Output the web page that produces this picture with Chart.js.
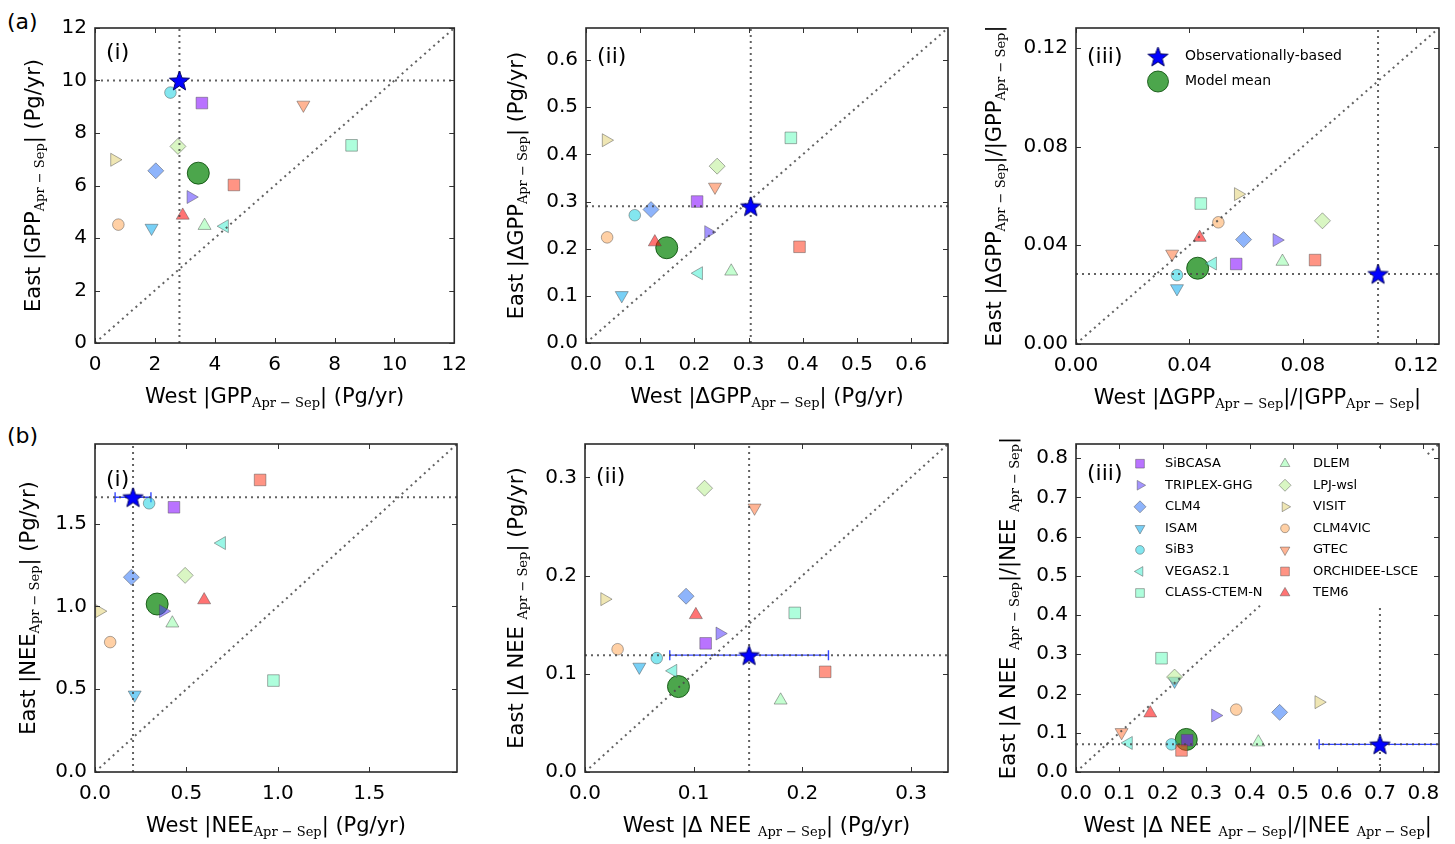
<!DOCTYPE html>
<html>
<head>
<meta charset="utf-8">
<script src="https://cdn.jsdelivr.net/npm/chart.js@4.4.1/dist/chart.umd.min.js"></script>
<style>
  html, body { margin: 0; padding: 0; background: #fff; width: 1455px; height: 844px; overflow: hidden; }
  .panel { position: absolute; }
  .tag { position: absolute; font: 22px "DejaVu Sans", sans-serif; color: #000; line-height: normal; }
</style>
</head>
<body>
<div class="tag" style="left:7px; top:9px;">(a)</div>
<div class="tag" style="left:7px; top:423px;">(b)</div>
<script>
// Models (same order in every panel)
const models = ['SiBCASA', 'TRIPLEX-GHG', 'CLM4', 'ISAM', 'SiB3', 'VEGAS2.1', 'CLASS-CTEM-N',
  'DLEM', 'LPJ-wsl', 'VISIT', 'CLM4VIC', 'GTEC', 'ORCHIDEE-LSCE', 'TEM6'];

// (a)(i) |GPP Apr-Sep|
const gppWest = [3.57, 3.20, 2.03, 1.89, 2.52, 4.33, 8.57, 3.66, 2.77, 0.65, 0.78, 6.96, 4.64, 2.93];
const gppEast = [9.14, 5.56, 6.56, 4.38, 9.54, 4.45, 7.53, 4.47, 7.49, 6.98, 4.51, 9.07, 6.02, 4.86];
// (a)(ii) |dGPP|
const dGppWest = [0.205, 0.226, 0.120, 0.066, 0.090, 0.208, 0.378, 0.268, 0.242, 0.037, 0.039, 0.238, 0.394, 0.127];
const dGppEast = [0.300, 0.235, 0.283, 0.101, 0.271, 0.148, 0.435, 0.152, 0.375, 0.430, 0.224, 0.331, 0.204, 0.214];
// (a)(iii) |dGPP|/|GPP|
const relGppWest = [0.0565, 0.0708, 0.0591, 0.0356, 0.0356, 0.0482, 0.0440, 0.0728, 0.0869, 0.0572, 0.0502, 0.0339, 0.0843, 0.0436];
const relGppEast = [0.0324, 0.0421, 0.0423, 0.0225, 0.0279, 0.0326, 0.0569, 0.0334, 0.0499, 0.0607, 0.0493, 0.0365, 0.0340, 0.0431];
// (b)(i) |NEE| (GTEC not shown)
const neeWest = [0.432, 0.373, 0.199, 0.217, 0.296, 0.693, 0.976, 0.423, 0.493, 0.024, 0.083, null, 0.903, 0.597];
const neeEast = [1.598, 0.971, 1.176, 0.466, 1.622, 1.382, 0.552, 0.898, 1.187, 0.971, 0.784, null, 1.763, 1.038];
// (b)(ii) |dNEE|
const dNeeWest = [0.111, 0.124, 0.093, 0.050, 0.066, 0.081, 0.193, 0.180, 0.110, 0.018, 0.030, 0.156, 0.221, 0.102];
const dNeeEast = [0.131, 0.141, 0.179, 0.107, 0.116, 0.103, 0.162, 0.073, 0.289, 0.176, 0.125, 0.269, 0.102, 0.160];
// (b)(iii) |dNEE|/|NEE|
const relNeeWest = [0.256, 0.321, 0.469, 0.227, 0.220, 0.121, 0.197, 0.420, 0.227, 0.559, 0.369, 0.105, 0.243, 0.171];
const relNeeEast = [0.081, 0.144, 0.152, 0.232, 0.0705, 0.074, 0.290, 0.076, 0.242, 0.178, 0.159, 0.101, 0.055, 0.150];

// observations and model mean, one value per panel
const obsWest = [2.82, 0.304, 0.1065, 0.208, 0.151, 0.70];
const obsEast = [10.0, 0.290, 0.0284, 1.659, 0.119, 0.0705];
const obsWestErr = [0, 0, 0, 0.098, 0.073, 0.14];
const meanWest = [3.45, 0.149, 0.0429, 0.340, 0.086, 0.254];
const meanEast = [6.47, 0.202, 0.0307, 1.014, 0.087, 0.083];

// axes
const axisMax = [12, 0.668, 0.128, 1.98, 0.334, 0.836];
const tickStep = [2, 0.1, 0.04, 0.5, 0.1, 0.1];
const tickDecimals = [0, 1, 2, 1, 1, 1];
const panelLabels = ['(i)', '(ii)', '(iii)', '(i)', '(ii)', '(iii)'];

const S = 'Apr \u2212 Sep';
const xTitles = [
  ['West |GPP', S, '| (Pg/yr)'],
  ['West |\u0394GPP', S, '| (Pg/yr)'],
  ['West |\u0394GPP', S, '|/|GPP', S, '|'],
  ['West |NEE', S, '| (Pg/yr)'],
  ['West |\u0394 NEE ', S, '| (Pg/yr)'],
  ['West |\u0394 NEE ', S, '|/|NEE ', S, '|'],
];
const yTitles = [
  ['East |GPP', S, '| (Pg/yr)'],
  ['East |\u0394GPP', S, '| (Pg/yr)'],
  ['East |\u0394GPP', S, '|/|GPP', S, '|'],
  ['East |NEE', S, '| (Pg/yr)'],
  ['East |\u0394 NEE ', S, '| (Pg/yr)'],
  ['East |\u0394 NEE ', S, '|/|NEE ', S, '|'],
];

const westVals = [gppWest, dGppWest, relGppWest, neeWest, dNeeWest, relNeeWest];
const eastVals = [gppEast, dGppEast, relGppEast, neeEast, dNeeEast, relNeeEast];

// styles
const modelColors = [
  'rgba(128,0,255,0.55)', 'rgba(88,61,253,0.55)', 'rgba(49,119,248,0.55)', 'rgba(10,169,238,0.55)',
  'rgba(29,210,226,0.55)', 'rgba(69,238,210,0.55)', 'rgba(108,253,191,0.55)', 'rgba(147,253,169,0.55)',
  'rgba(186,238,145,0.55)', 'rgba(226,210,119,0.55)', 'rgba(255,169,91,0.55)', 'rgba(255,119,61,0.55)',
  'rgba(255,61,31,0.55)', 'rgba(255,0,0,0.55)'];
const modelShapes = ['rect', 'triangle', 'rectRot', 'triangle', 'circle', 'triangle', 'rect',
  'triangle', 'rectRot', 'triangle', 'circle', 'triangle', 'rect', 'triangle'];
const modelRotation = [0, 90, 0, 180, 0, 270, 0, 0, 0, 90, 0, 180, 0, 0];
const shapeRadius = { rect: 8.2, rectRot: 8, circle: 5.8, triangle: 7.5 };
const edgeColor = 'rgba(70,70,70,0.45)';
const meanColor = 'rgba(0,128,0,0.7)';
const dotColor = 'rgba(70,70,70,0.85)';

const panels = [
  { l: 95, t: 28, r: 457, b: 343, yGap: 55, labelY: 31 },
  { l: 586, t: 28, r: 948, b: 343, yGap: 63, labelY: 35 },
  { l: 1076, t: 28, r: 1439, b: 344, yGap: 75, labelY: 35 },
  { l: 95, t: 444, r: 457, b: 772, yGap: 60, labelY: 42 },
  { l: 585, t: 444, r: 948, b: 772, yGap: 62, labelY: 39 },
  { l: 1076, t: 444, r: 1439, b: 772, yGap: 61, labelY: 36 },
];

const FONT = '"DejaVu Sans", sans-serif';
const MAIN_FONT = '21px ' + FONT;
const SUB_FONT = '13px "DejaVu Serif", serif';
Chart.defaults.font.family = FONT;
Chart.defaults.color = '#000';

function makeStar(size) {
  const c = document.createElement('canvas');
  c.width = c.height = size;
  const g = c.getContext('2d');
  const R = size / 2 - 1, r = R * 0.42, cx = size / 2, cy = size / 2 + 1;
  g.beginPath();
  for (let i = 0; i < 10; i++) {
    const a = -Math.PI / 2 + i * Math.PI / 5;
    const rr = i % 2 ? r : R;
    g.lineTo(cx + rr * Math.cos(a), cy + rr * Math.sin(a));
  }
  g.closePath();
  g.fillStyle = '#0000ff';
  g.fill();
  g.lineWidth = 1;
  g.strokeStyle = '#000060';
  g.stroke();
  return c;
}
const starImg = makeStar(23);

// text with subscripts: even items normal, odd items subscript
function drawRich(ctx, segs, x, y, rotate) {
  ctx.save();
  ctx.translate(x, y);
  if (rotate) ctx.rotate(-Math.PI / 2);
  ctx.fillStyle = '#000';
  ctx.textBaseline = 'alphabetic';
  ctx.textAlign = 'left';
  let total = 0;
  const widths = segs.map((s, i) => {
    ctx.font = i % 2 ? SUB_FONT : MAIN_FONT;
    const w = ctx.measureText(s).width;
    total += w;
    return w;
  });
  let cx = -total / 2;
  segs.forEach((s, i) => {
    ctx.font = i % 2 ? SUB_FONT : MAIN_FONT;
    ctx.fillText(s, cx, i % 2 ? 4 : 0);
    cx += widths[i];
  });
  ctx.restore();
}

function legendPoint(ctx, style, rotation, radius, color, edge, x, y) {
  ctx.save();
  ctx.fillStyle = color;
  ctx.strokeStyle = edge;
  ctx.lineWidth = 1;
  Chart.helpers.drawPoint(ctx, { pointStyle: style, rotation: rotation, radius: radius, borderWidth: 1 }, x, y);
  ctx.restore();
}

function buildPanel(k) {
  const p = panels[k];
  const yW = 100, tp = 28, xH = 70, rp = k % 3 === 2 ? 14 : 20;
  const w = yW + (p.r - p.l) + rp;
  const h = tp + (p.b - p.t) + xH;
  const div = document.createElement('div');
  div.className = 'panel';
  div.style.left = (p.l - yW) + 'px';
  div.style.top = (p.t - tp) + 'px';
  div.style.width = w + 'px';
  div.style.height = h + 'px';
  const cv = document.createElement('canvas');
  cv.width = w;
  cv.height = h;
  cv.style.width = w + 'px';
  cv.style.height = h + 'px';
  div.appendChild(cv);
  document.body.appendChild(div);

  const lim = axisMax[k];
  const datasets = [];

  datasets.push({
    label: 'Model mean',
    data: [{ x: meanWest[k], y: meanEast[k] }],
    pointStyle: 'circle', pointRadius: 11,
    pointBackgroundColor: meanColor, pointBorderColor: 'rgba(0,70,0,0.8)', pointBorderWidth: 1,
    order: 200,
  });

  models.forEach((m, i) => {
    const x = westVals[k][i], y = eastVals[k][i];
    if (x == null || y == null) return;
    datasets.push({
      label: m,
      data: [{ x: x, y: y }],
      pointStyle: modelShapes[i], pointRotation: modelRotation[i],
      pointRadius: shapeRadius[modelShapes[i]],
      pointBackgroundColor: modelColors[i], pointBorderColor: edgeColor, pointBorderWidth: 1,
      order: 100 - i,
    });
  });

  const refLine = (data) => ({
    data: data, showLine: true, pointRadius: 0, fill: false,
    borderColor: dotColor, borderWidth: 2, borderDash: [2, 4], order: 50,
  });
  datasets.push(refLine([{ x: 0, y: 0 }, { x: lim, y: lim }]));
  datasets.push(refLine([{ x: 0, y: obsEast[k] }, { x: lim, y: obsEast[k] }]));
  datasets.push(refLine([{ x: obsWest[k], y: 0 }, { x: obsWest[k], y: lim }]));

  datasets.push({
    label: 'Observationally-based',
    data: [{ x: obsWest[k], y: obsEast[k] }],
    pointStyle: starImg, pointRadius: 10, order: 0,
  });

  const tickCfg = {
    stepSize: tickStep[k], includeBounds: false, autoSkip: false, maxRotation: 0,
    color: '#000', font: { size: 20 },
    callback: (v) => Number(v).toFixed(tickDecimals[k]),
  };

  const panelPlugin = {
    id: 'panel' + k,
    beforeDatasetsDraw(chart) {
      const err = obsWestErr[k];
      if (!err) return;
      const { ctx, chartArea: a, scales } = chart;
      const y = scales.y.getPixelForValue(obsEast[k]);
      const x1 = scales.x.getPixelForValue(obsWest[k] - err);
      const x2 = scales.x.getPixelForValue(obsWest[k] + err);
      ctx.save();
      ctx.beginPath();
      ctx.rect(a.left, a.top, a.right - a.left, a.bottom - a.top);
      ctx.clip();
      ctx.strokeStyle = 'rgba(30,50,255,0.9)';
      ctx.lineWidth = 1.4;
      ctx.beginPath();
      ctx.moveTo(x1, y); ctx.lineTo(x2, y);
      ctx.moveTo(x1, y - 5); ctx.lineTo(x1, y + 5);
      ctx.moveTo(x2, y - 5); ctx.lineTo(x2, y + 5);
      ctx.stroke();
      ctx.restore();
    },
    afterDatasetsDraw(chart) {
      const { ctx, chartArea: a, scales } = chart;
      ctx.save();
      // legends
      if (k === 2) {
        legendPoint(ctx, starImg, 0, 10, '#00f', '#000060', a.left + 82, a.top + 28.5);
        legendPoint(ctx, 'circle', 0, 10.5, meanColor, 'rgba(0,70,0,0.8)', a.left + 82, a.top + 53.5);
        ctx.fillStyle = '#000';
        ctx.font = '14px ' + FONT;
        ctx.textBaseline = 'middle';
        ctx.fillText('Observationally-based', a.left + 109, a.top + 28.5);
        ctx.fillText('Model mean', a.left + 109, a.top + 53.5);
      }
      if (k === 5) {
        ctx.fillStyle = '#fff';
        ctx.fillRect(a.left + 51, a.top + 4, 299, 157);
        ctx.font = '13px ' + FONT;
        ctx.textBaseline = 'middle';
        models.forEach((m, i) => {
          const col = i < 7 ? 0 : 1;
          const row = i % 7;
          const mx = a.left + (col ? 209 : 64);
          const tx = a.left + (col ? 237 : 89);
          const my = a.top + 19.7 + row * 21.55;
          legendPoint(ctx, modelShapes[i], modelRotation[i], shapeRadius[modelShapes[i]] * 0.75,
            modelColors[i], edgeColor, mx, my);
          ctx.fillStyle = '#000';
          ctx.fillText(m, tx, my);
        });
      }
      // inward ticks on all four sides
      ctx.strokeStyle = '#333';
      ctx.lineWidth = 1;
      ctx.beginPath();
      scales.x.ticks.forEach((t) => {
        const x = Math.round(scales.x.getPixelForValue(t.value)) + 0.5;
        ctx.moveTo(x, a.bottom); ctx.lineTo(x, a.bottom - 5);
        ctx.moveTo(x, a.top); ctx.lineTo(x, a.top + 5);
      });
      scales.y.ticks.forEach((t) => {
        const y = Math.round(scales.y.getPixelForValue(t.value)) + 0.5;
        ctx.moveTo(a.left, y); ctx.lineTo(a.left + 5, y);
        ctx.moveTo(a.right, y); ctx.lineTo(a.right - 5, y);
      });
      ctx.stroke();
      // frame
      ctx.strokeStyle = '#2a2a2a';
      ctx.lineWidth = 1.6;
      ctx.strokeRect(a.left, a.top, a.right - a.left, a.bottom - a.top);
      // panel label
      ctx.fillStyle = '#000';
      ctx.font = '22px ' + FONT;
      ctx.textBaseline = 'alphabetic';
      ctx.fillText(panelLabels[k], a.left + 11, a.top + p.labelY);
      ctx.restore();
    },
    afterDraw(chart) {
      const { ctx, chartArea: a } = chart;
      drawRich(ctx, xTitles[k], (a.left + a.right) / 2, a.bottom + 60, false);
      drawRich(ctx, yTitles[k], a.left - p.yGap, (a.top + a.bottom) / 2, true);
    },
  };

  new Chart(cv, {
    type: 'scatter',
    data: { datasets: datasets },
    options: {
      responsive: false,
      animation: false,
      layout: { padding: { top: tp, right: rp, left: 0, bottom: 0 } },
      plugins: { legend: { display: false }, tooltip: { enabled: false } },
      scales: {
        x: {
          type: 'linear', min: 0, max: lim,
          grid: { display: false, drawTicks: false }, border: { display: false },
          ticks: Object.assign({ padding: 10 }, tickCfg),
          afterFit: (s) => { s.height = xH; },
        },
        y: {
          type: 'linear', min: 0, max: lim,
          grid: { display: false, drawTicks: false }, border: { display: false },
          ticks: Object.assign({ padding: 8 }, tickCfg),
          afterFit: (s) => { s.width = yW; },
        },
      },
    },
    plugins: [panelPlugin],
  });
}

for (let k = 0; k < 6; k++) buildPanel(k);
</script>
</body>
</html>
